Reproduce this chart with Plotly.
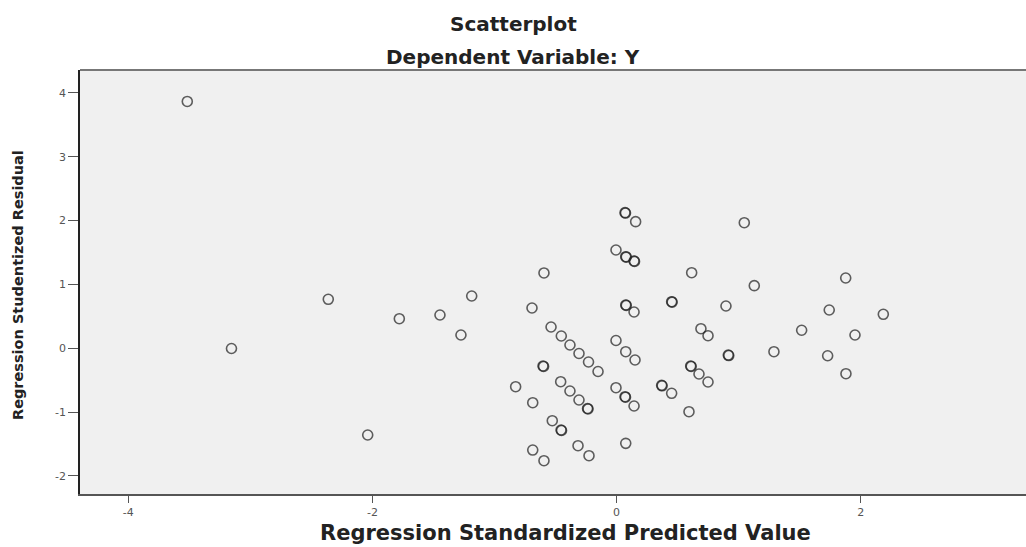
import plotly.graph_objects as go

# Regression Standardized Predicted Value
predicted = [
    -3.517, -3.155, -2.362, -2.039, -1.780, -1.447, -1.275, -1.187,
    -0.595, -0.693, -0.537, -0.453, -0.382, -0.308, -0.230, -0.152,
    -0.603, -0.827, -0.687, -0.458, -0.382, -0.308, -0.238, -0.527,
    -0.455, -0.316, -0.226, -0.687, -0.595,
    -0.005, 0.075, 0.143, 0.069, 0.156, 0.075, 0.143, -0.005, 0.075,
    0.151, -0.005, 0.069, 0.143, 0.075,
    0.451, 0.369, 0.451, 0.593, 0.607, 0.675, 0.749, 0.691, 0.749,
    0.615, 1.046, 0.896, 1.128, 0.915, 1.289, 1.516, 1.742, 1.729,
    1.953, 1.877, 1.879, 2.185,
    # overlapping (darker) points
    -0.598, -0.234, -0.451, 0.079, 0.147, 0.073, 0.079, 0.073, 0.455,
    0.373, 0.611, 0.919,
]

# Regression Studentized Residual
residual = [
    3.867, -0.005, 0.766, -1.360, 0.462, 0.520, 0.207, 0.818,
    1.179, 0.630, 0.332, 0.191, 0.050, -0.083, -0.216, -0.365,
    -0.279, -0.603, -0.854, -0.525, -0.671, -0.812, -0.945, -1.136,
    -1.282, -1.528, -1.685, -1.596, -1.763,
    1.539, 1.434, 1.367, 2.124, 1.983, 0.677, 0.567, 0.121, -0.055,
    -0.185, -0.619, -0.760, -0.906, -1.491,
    0.729, -0.582, -0.707, -0.995, -0.279, -0.404, -0.530, 0.306, 0.196,
    1.183, 1.967, 0.661, 0.980, -0.107, -0.055, 0.281, 0.599, -0.118,
    0.207, 1.100, -0.400, 0.531,
    # overlapping (darker) points
    -0.286, -0.952, -1.290, 1.428, 1.360, 2.118, 0.671, -0.768, 0.722,
    -0.589, -0.286, -0.115,
]

x_ticks = [-4, -2, 0, 2]
y_ticks = [-2, -1, 0, 1, 2, 3, 4]

fig = go.Figure()
fig.add_trace(go.Scatter(
    x=predicted, y=residual, mode="markers",
    marker=dict(symbol="circle-open", size=10,
                color="rgba(35,35,35,0.72)", line=dict(width=1.6)),
    hoverinfo="x+y", showlegend=False,
))

title_font = dict(family="DejaVu Sans", size=20, color="#222")

fig.update_layout(
    width=1026, height=547, autosize=False,
    margin=dict(l=80, r=0, t=70, b=53),
    paper_bgcolor="white", plot_bgcolor="#f0f0f0",
    xaxis=dict(range=[-4.396, 3.354], tickvals=x_ticks,
               ticktext=[str(v) for v in x_ticks],
               ticks="outside", ticklen=7, tickwidth=1.2, tickcolor="#555",
               showline=True, linecolor="#555", linewidth=2,
               showgrid=False, zeroline=False,
               tickfont=dict(family="DejaVu Sans", size=11, color="#555")),
    yaxis=dict(range=[-2.285, 4.36], tickvals=y_ticks,
               ticktext=[str(v) for v in y_ticks],
               ticks="outside", ticklen=10, tickwidth=1.2, tickcolor="#555",
               showline=True, linecolor="#222", linewidth=1.5,
               showgrid=False, zeroline=False,
               tickfont=dict(family="DejaVu Sans", size=11, color="#555")),
    shapes=[dict(type="line", xref="paper", yref="paper", x0=0, x1=1,
                 y0=1, y1=1, line=dict(color="#777", width=2))],
    annotations=[
        dict(text="<b>Scatterplot</b>", xref="paper", yref="paper",
             x=0.458, y=1.108, xanchor="center", yanchor="middle",
             showarrow=False, font=title_font),
        dict(text="<b>Dependent Variable: Y</b>", xref="paper", yref="paper",
             x=0.458, y=1.031, xanchor="center", yanchor="middle",
             showarrow=False, font=title_font),
        dict(text="<b>Regression Standardized Predicted Value</b>",
             xref="paper", yref="paper", x=0.513, y=-0.092,
             xanchor="center", yanchor="middle", showarrow=False,
             font=dict(family="DejaVu Sans", size=21, color="#222")),
        dict(text="<b>Regression Studentized Residual</b>",
             xref="paper", yref="paper", x=-0.0655, y=0.493,
             xanchor="center", yanchor="middle", textangle=-90,
             showarrow=False,
             font=dict(family="DejaVu Sans", size=14.5, color="#222")),
    ],
)

fig.write_html(
    "out.html",
    config={"displayModeBar": False},
    post_script="document.body.style.margin='0';"
                "document.body.style.overflow='hidden';",
)
